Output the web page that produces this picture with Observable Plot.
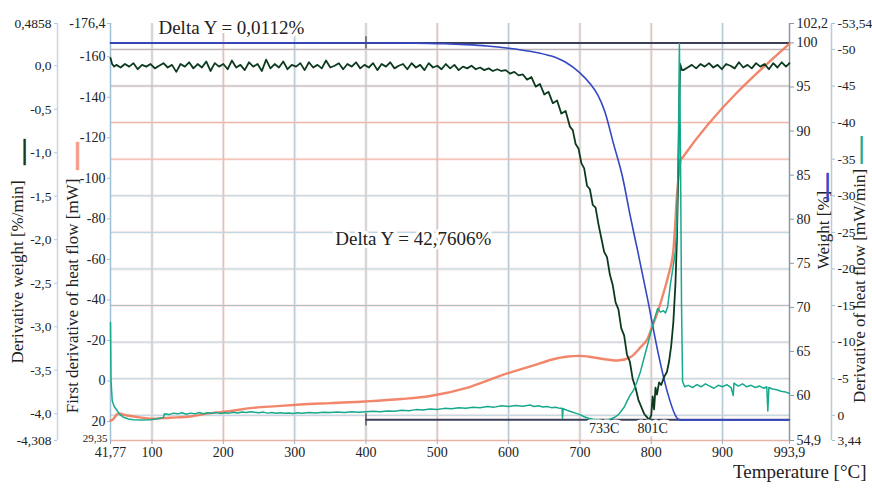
<!DOCTYPE html>
<html><head><meta charset="utf-8">
<script src="https://cdn.jsdelivr.net/npm/d3@7"></script>
<script src="https://cdn.jsdelivr.net/npm/@observablehq/plot@0.6"></script>
<style>
body{margin:0;background:#fff}
#chart svg{font-family:"Liberation Serif","Times New Roman",serif;overflow:visible}
</style>
</head><body><div id="chart"></div>
<script>
// ---------- axes / ticks ----------
const xTicks = [41.77, 100, 200, 300, 400, 500, 600, 700, 800, 900, 993.9];
const xTickLabels = ["41,77","100","200","300","400","500","600","700","800","900","993,9"];
const xGrid = [100, 200, 300, 400, 500, 600, 700, 800, 900];

const hfTicks = [-176.4, -160, -140, -120, -100, -80, -60, -40, -20, 0, 20];
const hfTickLabels = ["-176,4","-160","-140","-120","-100","-80","-60","-40","-20","0","20"];
const hfBottom = [29.35];
const hfBottomLabel = ["29,35"];

const dwTicks = [0.4858, 0, -0.5, -1, -1.5, -2, -2.5, -3, -3.5, -4, -4.308];
const dwTickLabels = ["0,4858","0,0","-0,5","-1,0","-1,5","-2,0","-2,5","-3,0","-3,5","-4,0","-4,308"];

const wTicks = [102.2, 100, 95, 90, 85, 80, 75, 70, 65, 60, 54.9];
const wTickLabels = ["102,2","100","95","90","85","80","75","70","65","60","54,9"];

const dhTicks = [-53.54, -50, -45, -40, -35, -30, -25, -20, -15, -10, -5, 0, 3.44];
const dhTickLabels = ["-53,54","-50","-45","-40","-35","-30","-25","-20","-15","-10","-5","0","3,44"];
const dhGrid = [-50, -45, -40, -35, -30, -25, -20, -15, -10, -5, 0];
const dhGridColors = ["#a9b4bd","#aab6bf","#f0b2a4","#f0b2a4","#b3d6e5","#b3d6e5","#b3d6e5","#aac0cc","#b3d6e5","#b3d6e5","#b3d6e5"];

// ---------- series ----------
// Weight [%] (blue)
const wT = [41.77, 200, 400, 470, 510, 540, 570, 600, 630, 660, 680, 700, 715, 725, 735, 747, 760, 771, 781, 795, 809, 823, 833, 838, 841, 900, 993.9];
const wV = [100.0, 100.0, 99.99, 99.97, 99.9, 99.8, 99.65, 99.4, 99.05, 98.5, 97.8, 96.6, 95.3, 94.1, 92.2, 88.6, 84.7, 80.2, 76.4, 70.9, 65.1, 60.3, 57.9, 57.3, 57.24, 57.24, 57.24];

// Derivative weight [%/min] (dark green)
const dtgT = [41.77,44,47,50,56,62,68,74,80,86,92,98,104,110,116,122,128,134,140,146,152,158,164,170,176,182,188,194,200,206,212,218,224,230,236,242,248,254,260,266,272,278,284,290,296,302,308,314,320,326,332,338,344,350,356,362,368,374,380,386,392,398,404,410,416,422,428,434,440,446,452,458,464,470,476,482,488,494,500,506,512,518,524,530,536,542,548,554,560,566,572,578,584,
590,596,602,608,614,620,626,632,638,644,650,656,662,668,674,680,686,690,694,698,702,706,710,714,718,722,726,730,734,738,742,746,750,754,758,762,766,770,774,778,782,786,790,794,797,800,802,804,806,808,811,814,818,822,825,828,831,834,836,838,839.5,840.5,
843,845,851,857,863,869,875,881,887,893,899,905,911,917,923,929,935,941,947,953,959,965,971,977,983,989,993.9];
const dtgV = [0.09,0.02,-0.01,0.01,-0.02,0.02,-0.01,0.03,-0.04,0.01,-0.01,0.02,-0.03,0.00,0.03,-0.02,0.01,-0.07,0.02,-0.01,0.04,-0.03,0.02,-0.02,0.05,-0.06,0.03,-0.01,0.02,-0.04,0.06,-0.02,0.01,-0.05,0.04,-0.01,0.02,-0.06,0.07,-0.03,0.02,-0.02,0.05,-0.04,0.01,-0.01,0.03,-0.05,0.04,-0.02,0.01,-0.03,0.06,-0.02,0.00,0.03,-0.04,0.02,-0.01,0.04,-0.03,0.01,-0.02,0.03,-0.05,0.02,-0.01,0.04,-0.03,0.00,0.02,-0.04,0.03,-0.02,0.01,-0.05,0.03,-0.02,0.00,-0.04,0.02,-0.03,0.01,-0.05,-0.01,-0.03,0.00,-0.04,-0.02,-0.05,-0.03,-0.06,-0.04,
-0.06,-0.05,-0.09,-0.07,-0.11,-0.10,-0.16,-0.13,-0.24,-0.21,-0.33,-0.30,-0.43,-0.40,-0.55,-0.52,-0.70,-0.74,-0.90,-0.95,-1.12,-1.18,-1.38,-1.42,-1.60,-1.63,-1.82,-1.98,-2.14,-2.20,-2.40,-2.52,-2.72,-2.80,-3.02,-3.10,-3.32,-3.40,-3.60,-3.70,-3.84,-3.92,-4.00,-4.04,-4.07,-4.02,-3.80,-3.95,-3.70,-3.78,-3.64,-3.67,-3.58,-3.52,-3.40,-3.22,-2.95,-2.50,-2.00,-1.20,-0.40,0.02,
-0.05,-0.05,-0.02,0.01,-0.03,0.02,-0.01,0.03,-0.02,0.01,-0.04,0.02,0.00,-0.03,0.04,-0.02,0.01,-0.03,0.03,-0.01,0.02,-0.04,0.03,-0.02,0.04,-0.01,0.03];

// First derivative of heat flow [mW] (orange)
const hfT = [41.77, 42.8, 53, 65, 80, 98, 126, 154, 177, 210, 238, 275, 308, 350, 399, 450, 490, 540, 589, 635, 660, 683, 700, 711, 730, 753, 771, 785, 795, 803, 810, 817, 824, 831, 837, 841, 844, 993.9];
const hfV = [19.5, 19.5, 16.0, 17.0, 17.8, 18.6, 18.1, 17.5, 16.1, 14.8, 13.4, 12.4, 11.6, 10.9, 10.1, 8.9, 7.4, 3.5, -2.7, -7.7, -10.5, -12.1, -12.4, -12.1, -11.0, -10.1, -11.8, -16.7, -21.0, -28.4, -35.0, -43.2, -52.0, -64.4, -95.5, -108.8, -110.3, -166.5];

// Derivative of heat flow [mW/min] (teal)
const dhT = [41.77,42.5,44.2,47,51,55,60,67,74,85,98,106,114,116,117.5,124,130,136,142,148,154,160,166,172,178,184,190,196,202,208,214,220,226,232,238,244,250,256,262,268,274,280,286,292,298,304,310,320,330,340,350,360,370,380,390,400,410,420,430,440,450,460,470,480,490,500,510,520,530,540,550,560,570,580,590,600,610,620,630,636,642,648,654,660,666,672,675,675.6,676.5,682,688,694,700,706,712,718,724,730,736,742,748,754,758,762,766,770,775,780,785,789,794,799,804,809,813,817,820,823,827,831,834,836,838,839.5,841,842.5,844,847,852,858,864,870,876,882,888,894,900,906,912,915,916,922,928,934,940,946,952,958,962,963.5,965,970,976,982,988,993.9];
const dhV = [-12.7,-4.8,-2.0,-1.2,-0.66,-0.1,0.26,0.5,0.62,0.65,0.62,0.5,0.34,0.3,-0.21,-0.1,-0.3,-0.2,-0.35,-0.15,-0.3,-0.2,-0.38,-0.22,-0.34,-0.28,-0.4,-0.25,-0.36,-0.3,-0.42,-0.31,-0.45,-0.38,-0.5,-0.42,-0.36,-0.44,-0.3,-0.38,-0.28,-0.36,-0.27,-0.33,-0.25,-0.35,-0.3,-0.38,-0.33,-0.42,-0.37,-0.45,-0.4,-0.5,-0.43,-0.5,-0.56,-0.48,-0.6,-0.55,-0.68,-0.62,-0.78,-0.72,-0.85,-0.8,-0.95,-0.9,-1.02,-0.96,-1.1,-1.05,-1.2,-1.12,-1.3,-1.22,-1.35,-1.25,-1.4,-1.2,-1.3,-1.15,-1.2,-1.05,-1.1,-0.95,-0.95,0.4,-0.9,-0.7,-0.5,-0.3,-0.1,0.2,0.4,0.55,0.65,0.75,0.7,0.55,0.3,-0.1,-0.6,-1.1,-1.9,-2.7,-3.4,-4.6,-6.0,-7.5,-9.3,-11.2,-13.0,-14.6,-14.1,-14.3,-14.0,-14.8,-18.0,-20.5,-22.5,-26.0,-36.0,-50.8,-36.0,-15.0,-4.6,-3.9,-4.1,-3.8,-4.2,-3.9,-4.3,-4.0,-3.7,-4.1,-3.9,-4.2,-3.8,-2.7,-4.4,-4.0,-4.3,-3.9,-4.1,-3.8,-4.0,-3.7,-3.9,-0.6,-3.8,-3.6,-3.5,-3.3,-3.2,-2.98];

// step analysis (weight levels) and annotations
const stepT = [400];
const stepLevels = [100, 57.24];
const annotText = ["Delta Y = 0,0112%", "Delta Y = 42,7606%"];
const annotT = [109, 357];
const annotW = [101.75, 77.8];
const peakText = ["733C", "801C"];
const peakT = [734, 802];

// ---------- scales mapping secondary axes onto the primary one ----------
const hfDom = [-176.4, 29.35];
const dw = d3.scaleLinear([0.4858, -4.308], hfDom);
const sw = d3.scaleLinear([102.2, 54.9], hfDom);
const sd = d3.scaleLinear([-53.54, 3.44], hfDom);

const zip = (a, b) => a.map((t, i) => ({t, v: b[i]}));
const labMap = (vals, labs, f = d => d) => new Map(vals.map((v, i) => [f(v), labs[i]]));
const xLab = labMap(xTicks, xTickLabels);
const hfLab = labMap(hfTicks, hfTickLabels);
const dwLab = labMap(dwTicks, dwTickLabels, dw);
const wLab = labMap(wTicks, wTickLabels, sw);
const dhLab = labMap(dhTicks, dhTickLabels, sd);

const ink = "#222";
const titleSize = 17;
const rot = {rotate: -90, textAnchor: "middle", lineAnchor: "middle"};

const chart = Plot.plot({
  width: 872, height: 488,
  marginLeft: 110, marginRight: 83, marginTop: 23, marginBottom: 48,
  style: {fontFamily: "'Liberation Serif','Times New Roman',serif", fontSize: "14px", color: ink, background: "#fff"},
  x: {type: "linear", domain: [41.77, 993.9], axis: null, label: null},
  y: {type: "linear", domain: [29.35, -176.4], axis: null, label: null},
  marks: [
    // vertical grid (pink halo + blue-grey line)
    Plot.ruleX(xGrid, {stroke: "#f2cfc6", strokeWidth: 3, strokeOpacity: 0.5}),
    Plot.ruleX(xGrid, {stroke: "#b0c8d6", strokeWidth: 1}),
    // horizontal grid (follows the derivative of heat flow axis)
    Plot.ruleY(dhGrid.map(sd), {stroke: "#f4d3cb", strokeWidth: 3, strokeOpacity: 0.4}),
    Plot.ruleY(dhGrid.map(sd), {stroke: (d, i) => dhGridColors[i], strokeWidth: 1}),
    // frame lines
    Plot.ruleY([29.35], {stroke: "#e9b2a6", strokeWidth: 1.5}),
    Plot.ruleX([41.77], {stroke: "#9fc0d3", strokeWidth: 1.5}),
    Plot.ruleX([993.9], {stroke: "#8a9aa4", strokeWidth: 1.5}),
    Plot.ruleX([41.77], {stroke: "#c8d6e0", strokeWidth: 1.5, dx: -53}),
    Plot.ruleX([993.9], {stroke: "#b8ccd8", strokeWidth: 1.5, dx: 42}),

    // axes
    Plot.axisX(xTicks, {anchor: "bottom", label: null, tickSize: 4, tickPadding: 3, tickFormat: d => xLab.get(d), fontSize: 14, stroke: "#9ab0bf", fill: ink}),
    Plot.axisY(hfTicks, {anchor: "left", label: null, tickSize: 3, tickPadding: 2, tickFormat: d => hfLab.get(d), fontSize: 14, stroke: "#9fc0d3", fill: ink}),
    Plot.text(hfBottom, {x: 41.77, y: d => d, text: (d, i) => hfBottomLabel[i], textAnchor: "end", dx: -3, dy: -2, fontSize: 11, fill: ink}),
    Plot.axisY(dwTicks.map(dw), {anchor: "left", label: null, dx: -53, tickSize: 3, tickPadding: 3, tickFormat: d => dwLab.get(d), fontSize: 13.5, stroke: "#b9cbd6", fill: ink}),
    Plot.axisY(wTicks.map(sw), {anchor: "right", label: null, tickSize: 4, tickPadding: 3, tickFormat: d => wLab.get(d), fontSize: 14, stroke: "#8a9aa4", fill: ink}),
    Plot.axisY(dhTicks.map(sd), {anchor: "right", label: null, dx: 42, tickSize: 3, tickPadding: 3, tickFormat: d => dhLab.get(d), fontSize: 13.5, stroke: "#9fc0d3", fill: ink}),

    // step-analysis level lines
    Plot.ruleY(stepLevels.map(sw), {stroke: "#3c3f58", strokeWidth: 2, x1: (d, i) => i === 0 ? 41.77 : stepT[0], x2: 993.9}),
    Plot.ruleX(stepLevels, {x: () => stepT[0], y1: d => sw(d + 0.7), y2: d => sw(d - 0.7), stroke: "#3c3f58", strokeWidth: 1.2}),

    // series
    Plot.line(zip(hfT, hfV), {x: "t", y: "v", stroke: "#f0795a", strokeWidth: 2.4, strokeOpacity: 0.9, curve: "monotone-x"}),
    Plot.line(zip(wT, wV), {x: "t", y: d => sw(d.v), stroke: "#3447c4", strokeWidth: 1.6, curve: "monotone-x"}),
    Plot.line(zip(dtgT, dtgV), {x: "t", y: d => dw(d.v), stroke: "#0c3a1e", strokeWidth: 1.8}),
    Plot.line(zip(dhT, dhV), {x: "t", y: d => sd(d.v), stroke: "#17a98c", strokeWidth: 1.5}),

    // annotations
    Plot.text(annotText, {x: (d, i) => annotT[i], y: (d, i) => sw(annotW[i]), text: d => d, textAnchor: "start", fontSize: 19, fill: ink, stroke: "#fff", strokeWidth: 6, paintOrder: "stroke"}),
    Plot.text(peakText, {x: (d, i) => peakT[i], frameAnchor: "bottom", dy: -8, text: d => d, fontSize: 14, fill: ink, stroke: "#fff", strokeWidth: 7, paintOrder: "stroke"}),

    // axis titles (rotated) and legend glyphs
    Plot.text(["Derivative weight [%/min]"], {frameAnchor: "left", dx: -93, dy: 40, fontSize: titleSize, fill: ink, ...rot}),
    Plot.text(["First derivative of heat flow [mW]"], {frameAnchor: "left", dx: -38, dy: 64, fontSize: titleSize, fill: ink, ...rot}),
    Plot.text(["Weight [%]"], {frameAnchor: "right", dx: 34, dy: -2, fontSize: titleSize, fill: ink, ...rot}),
    Plot.text(["Derivative of heat flow [mW/min]"], {frameAnchor: "right", dx: 70, dy: 54, fontSize: titleSize, fill: ink, ...rot}),
    Plot.text(["—"], {frameAnchor: "left", dx: -88, dy: -80, fontSize: 25, fill: "#0c3a1e", stroke: "#0c3a1e", strokeWidth: 1, ...rot}),
    Plot.text(["—"], {frameAnchor: "left", dx: -35, dy: -76, fontSize: 26, fill: "#f4a08a", stroke: "#f4a08a", strokeWidth: 2, ...rot}),
    Plot.text(["—"], {frameAnchor: "right", dx: 36, dy: -45, fontSize: 27, fill: "#3447c4", stroke: "#3447c4", strokeWidth: 1, ...rot}),
    Plot.text(["—"], {frameAnchor: "right", dx: 70, dy: -82, fontSize: 27, fill: "#17a98c", stroke: "#17a98c", strokeWidth: 0.8, ...rot}),
    Plot.text(["Temperature [°C]"], {frameAnchor: "bottom-right", dx: 77, dy: 37, textAnchor: "end", fontSize: 19, fill: ink})
  ]
});
document.getElementById("chart").append(chart);
</script>
</body></html>
